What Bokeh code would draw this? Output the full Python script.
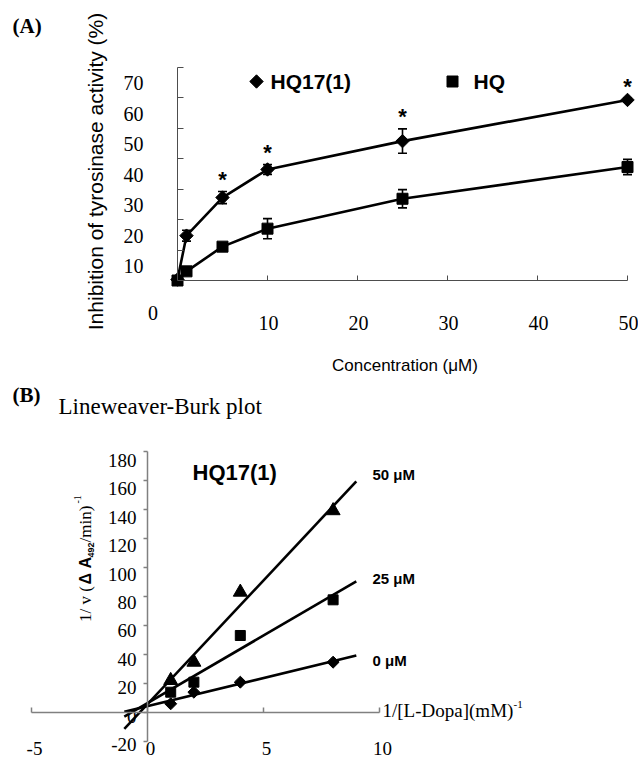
import numpy as np
from bokeh.plotting import figure
from bokeh.layouts import column
from bokeh.models import (Range1d, FixedTicker, ColumnDataSource, Whisker, TeeHead,
                          CustomJSTickFormatter)
from bokeh.core.properties import value
from bokeh.embed import file_html
from bokeh.resources import INLINE

# ---------------- data: panel (A) ----------------
conc = [0, 1, 5, 10, 25, 50]                      # concentration (uM)
hq17_inhib = [0.3, 14.7, 27.2, 36.4, 45.7, 59.2]  # % inhibition, HQ17(1)
hq17_err = [0.0, 1.8, 2.0, 1.6, 4.0, 0.6]
hq_inhib = [0.0, 3.0, 11.1, 17.0, 26.8, 37.2]     # % inhibition, HQ
hq_err = [0.0, 0.6, 0.6, 3.3, 3.0, 2.5]
hq17_signif = [False, False, True, True, True, True]
a_series = ["HQ17(1)", "HQ"]
a_yticks = [10, 20, 30, 40, 50, 60, 70]
a_ytick_labels = ["10", "20", "30", "40", "50", "60", "70"]
a_xticks = [10, 20, 30, 40, 50]
a_xtick_labels = ["10", "20", "30", "40", "50"]
a_origin_label = "0"

# ---------------- data: panel (B) ----------------
inv_dopa = [1, 2, 4, 8]                  # 1/[L-Dopa] (mM^-1)
inv_v_0uM = [5.8, 13.8, 20.7, 34.5]
inv_v_25uM = [13.8, 20.7, 52.9, 77.5]
inv_v_50uM = [21.9, 34.5, 82.8, 139.0]
b_series = ["0 μM", "25 μM", "50 μM"]
fit_span = [-1.0, 9.0]                   # extent of the regression lines
b_yticks = [-20, 0, 20, 40, 60, 80, 100, 120, 140, 160, 180]
b_ytick_labels = ["-20", "0", "20", "40", "60", "80", "100", "120", "140", "160", "180"]
b_xticks = [-5, 0, 5, 10]
b_xtick_labels = ["-5", "0", "5", "10"]

SANS = value("Liberation Sans")
SERIF = value("Liberation Serif")
W = 638

# ---------------- panel A geometry (page px) ----------------
A_TOP, A_H = 0, 384
X0A, SXA, Y0A, SYA = 177.0, 9.0, 280.0, 3.05
def ax(px): return (px - X0A) / SXA
def ay(py): return (Y0A - py) / SYA

# ---------------- panel B geometry (page px) ----------------
B_TOP, B_H = A_TOP + A_H, 377
X0B, SXB, Y0B, SYB = 147.0, 23.2, 711.7, 1.45
def bx(px): return (px - X0B) / SXB
def by(py): return (Y0B - py) / SYB


def put(p, xs, ys, texts, font, size, style="normal", align="left",
        baseline="middle", angle=0.0):
    src = ColumnDataSource(dict(x=list(xs), y=list(ys), t=list(texts)))
    p.text(x="x", y="y", text="t", source=src, text_font=font, text_font_size=size,
           text_font_style=style, text_align=align, text_baseline=baseline,
           angle=angle, text_color="black")


def style_axes(p, xfix, yfix, xb, yb, xt, yt, color, width, x_in, x_out, y_in, y_out):
    blank = CustomJSTickFormatter(code="return ''")
    for axis, fix, b, t, tin, tout in [(p.xaxis[0], xfix, xb, xt, x_in, x_out),
                                       (p.yaxis[0], yfix, yb, yt, y_in, y_out)]:
        axis.fixed_location = fix
        axis.bounds = b
        axis.ticker = FixedTicker(ticks=t)
        axis.formatter = blank
        axis.axis_line_color = color
        axis.axis_line_width = width
        axis.major_tick_line_color = color
        axis.major_tick_line_width = width
        axis.major_tick_in = tin
        axis.major_tick_out = tout
        axis.minor_tick_line_color = None
        axis.major_label_text_font_size = "1px"


def base_fig(h, xr, yr):
    p = figure(width=W, height=h, x_range=Range1d(*xr), y_range=Range1d(*yr),
               output_backend="svg", toolbar_location=None, min_border=0,
               outline_line_color=None, background_fill_color="white",
               border_fill_color="white")
    p.grid.visible = False
    return p


# ================= PANEL A =================
pA = base_fig(A_H, (ax(0), ax(W)), (ay(A_TOP + A_H), ay(A_TOP)))
style_axes(pA, 0, 0, (0, 50), (0, 70), a_xticks, a_yticks, "#4d4d4d", 1,
           5, 0, 6, 0)

srcA17 = ColumnDataSource(dict(x=conc, y=hq17_inhib,
                               lo=[v - e for v, e in zip(hq17_inhib, hq17_err)],
                               hi=[v + e for v, e in zip(hq17_inhib, hq17_err)]))
srcAhq = ColumnDataSource(dict(x=conc, y=hq_inhib,
                               lo=[v - e for v, e in zip(hq_inhib, hq_err)],
                               hi=[v + e for v, e in zip(hq_inhib, hq_err)]))
for s in (srcA17, srcAhq):
    pA.add_layout(Whisker(source=s, base="x", upper="hi", lower="lo",
                          line_color="black", line_width=1.6,
                          upper_head=TeeHead(size=9, line_width=1.6, line_color="black"),
                          lower_head=TeeHead(size=9, line_width=1.6, line_color="black")))
pA.line("x", "y", source=srcA17, line_color="black", line_width=2.6)
pA.line("x", "y", source=srcAhq, line_color="black", line_width=2.6)
pA.scatter("x", "y", source=srcA17, marker="square", angle=np.pi / 4, size=9.5,
           fill_color="black", line_color="black")
pA.scatter("x", "y", source=srcAhq, marker="square", size=11,
           fill_color="black", line_color="black")

# legend (key marks + labels)
pA.scatter([ax(256)], [ay(81)], marker="square", angle=np.pi / 4, size=9.5,
           fill_color="black", line_color="black")
pA.scatter([ax(452)], [ay(81)], marker="square", size=11,
           fill_color="black", line_color="black")
put(pA, [ax(270), ax(473)], [ay(81)] * 2, a_series, SANS, "21px", "bold")

# significance stars
sx = [c for c, s in zip(conc, hq17_signif) if s]
sy = [v + e + 12 / SYA for v, e, s in zip(hq17_inhib, hq17_err, hq17_signif) if s]
put(pA, sx, sy, ["*"] * len(sx), SANS, "22px", "bold", "center")

# tick labels (offset from ticks as in the original figure)
put(pA, [ax(143)] * len(a_yticks), [t - 16 / SYA for t in a_yticks], a_ytick_labels,
    SERIF, "20px", align="right")
put(pA, [ax(152.5)], [ay(312.5)], [a_origin_label], SERIF, "20px", align="center")
put(pA, [t + 1 / SXA for t in a_xticks], [ay(322)] * len(a_xticks), a_xtick_labels,
    SERIF, "20px", align="center")

put(pA, [ax(12)], [ay(25)], ["(A)"], SERIF, "21px", "bold")
put(pA, [ax(95)], [ay(171)], ["Inhibition of tyrosinase activity (%)"], SANS, "21px",
    align="center", angle=np.pi / 2)
put(pA, [ax(331.5)], [ay(365)], ["Concentration (μM)"], SANS, "17px")

# ================= PANEL B =================
pB = base_fig(B_H, (bx(0), bx(W)), (by(B_TOP + B_H), by(B_TOP)))
style_axes(pB, 0, 0, (-5, 10), (-20, 180), b_xticks, b_yticks, "#808080", 1.5,
           5, 0, 0, 4)

fx = np.array(fit_span)
markers = [("square", np.pi / 4, 8.5), ("square", 0.0, 10), ("triangle", 0.0, 14)]
for ys, (mk, ang, sz) in zip([inv_v_0uM, inv_v_25uM, inv_v_50uM], markers):
    m, c = np.polyfit(inv_dopa, ys, 1)
    pB.line(fx, m * fx + c, line_color="black", line_width=2.6)
    pB.scatter(inv_dopa, ys, marker=mk, angle=ang, size=sz,
               fill_color="black", line_color="black")

# series labels at line ends
put(pB, [bx(372)] * 3, [by(660), by(577.5), by(473.5)], b_series, SANS, "15px", "bold")
put(pB, [bx(192)], [by(472)], ["HQ17(1)"], SANS, "22px", "bold")

# tick labels
put(pB, [bx(136)] * len(b_yticks), [by(460 + (180 - t) * 1.42) for t in b_yticks],
    b_ytick_labels, SERIF, "19px", align="right")
put(pB, [t + 3 / SXB for t in b_xticks], [by(747.5)] * len(b_xticks), b_xtick_labels,
    SERIF, "19px", align="center")

put(pB, [bx(12)], [by(394)], ["(B)"], SERIF, "21px", "bold")
put(pB, [bx(58)], [by(405.5)], ["Lineweaver-Burk plot"], SERIF, "23px")

# x-axis title
put(pB, [bx(382)], [by(710)], ["1/[L-Dopa](mM)"], SERIF, "19px")
put(pB, [bx(513)], [by(704)], ["-1"], SERIF, "11px")

# y-axis title (rotated, built from pieces)
R = np.pi / 2
put(pB, [bx(84.5)], [by(621.5)], ["1/ v ("], SERIF, "17px", angle=R)
put(pB, [bx(84.5)], [by(584)], ["Δ A"], SANS, "16px", "bold", angle=R)
put(pB, [bx(90.5)], [by(557)], ["492"], SANS, "9px", "bold", angle=R)
put(pB, [bx(84.5)], [by(542)], ["/min)"], SERIF, "17px", angle=R)
put(pB, [bx(77)], [by(503)], ["-1"], SERIF, "10px", angle=R)

layout = column(pA, pB)
open("out.html", "w").write(file_html(layout, INLINE))
